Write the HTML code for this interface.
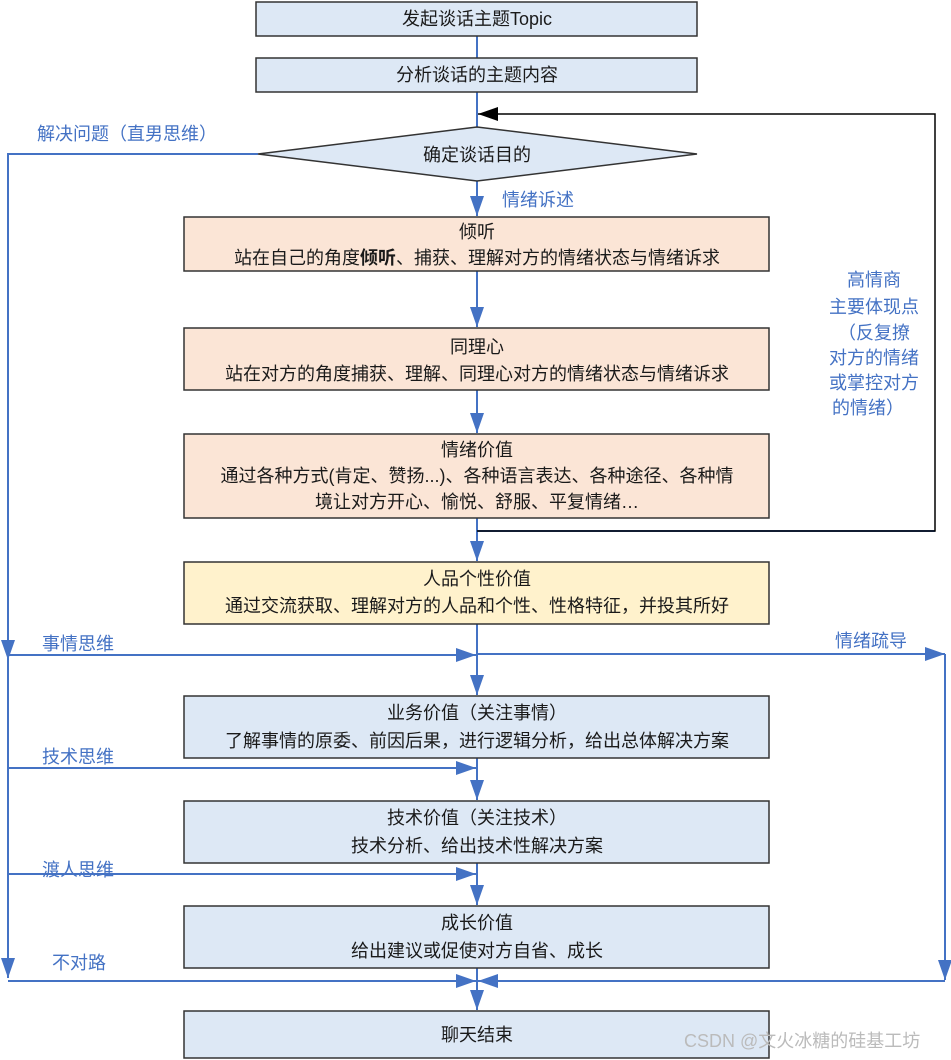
<!DOCTYPE html>
<html><head><meta charset="utf-8"><style>
html,body{margin:0;padding:0;background:#fff;}
svg{display:block;}
text{font-family:"Liberation Sans","Noto Sans CJK SC",sans-serif;}
.t{font-size:18px;fill:#1a1a1a;text-anchor:middle;}
.b{font-size:18px;fill:#4472c4;}
</style></head><body>
<svg width="951" height="1060" viewBox="0 0 951 1060" xmlns="http://www.w3.org/2000/svg">
<defs>
<marker id="a" markerWidth="10" markerHeight="10" refX="10" refY="5" orient="auto" markerUnits="userSpaceOnUse"><path d="M0,0L10,5L0,10z" fill="#4472c4"/></marker>
<marker id="al" markerWidth="20" markerHeight="14" refX="20" refY="7" orient="auto" markerUnits="userSpaceOnUse"><path d="M0,0L20,7L0,14z" fill="#4472c4"/></marker>
<marker id="k" markerWidth="20" markerHeight="14" refX="20" refY="7" orient="auto" markerUnits="userSpaceOnUse"><path d="M0,0L20,7L0,14z" fill="#000"/></marker>
</defs>
<g stroke="#4472c4" stroke-width="2" fill="none">
<line x1="477" y1="36" x2="477" y2="58"/>
<line x1="477" y1="92" x2="477" y2="127"/>
<line x1="477" y1="181" x2="477" y2="216" marker-end="url(#al)"/>
<line x1="477" y1="271" x2="477" y2="327" marker-end="url(#al)"/>
<line x1="477" y1="390" x2="477" y2="433" marker-end="url(#al)"/>
<line x1="477" y1="518" x2="477" y2="561" marker-end="url(#al)"/>
<line x1="477" y1="531" x2="935" y2="531"/>
<line x1="477" y1="624" x2="477" y2="695" marker-end="url(#al)"/>
<line x1="477" y1="758" x2="477" y2="800" marker-end="url(#al)"/>
<line x1="477" y1="863" x2="477" y2="905" marker-end="url(#al)"/>
<line x1="477" y1="968" x2="477" y2="1010" marker-end="url(#al)"/>
<polyline points="258,154 8,154 8,660" marker-end="url(#al)"/>
<line x1="8" y1="655" x2="8" y2="978" marker-end="url(#al)"/>
<line x1="8" y1="655" x2="476" y2="655" marker-end="url(#al)"/>
<line x1="8" y1="768" x2="476" y2="768" marker-end="url(#al)"/>
<line x1="8" y1="874" x2="476" y2="874" marker-end="url(#al)"/>
<line x1="8" y1="981" x2="476" y2="981" marker-end="url(#al)"/>
<line x1="477" y1="654" x2="945" y2="654" marker-end="url(#al)"/>
<line x1="945" y1="654" x2="945" y2="980" marker-end="url(#al)"/>
<line x1="945" y1="981" x2="478" y2="981" marker-end="url(#al)"/>
</g>
<polyline points="477,531 935,531 935,114 478,114" fill="none" stroke="#000" stroke-width="1.5" marker-end="url(#k)"/>
<g stroke="#333" stroke-width="1.5">
<rect x="256" y="2" width="441" height="34" fill="#dde8f5"/>
<rect x="256" y="58" width="441" height="34" fill="#dde8f5"/>
<polygon points="258,154 477,127 697,154 477,181" fill="#dde8f5"/>
<rect x="184" y="217" width="585" height="54" fill="#fbe5d6"/>
<rect x="184" y="328" width="585" height="62" fill="#fbe5d6"/>
<rect x="184" y="434" width="585" height="84" fill="#fbe5d6"/>
<rect x="184" y="562" width="585" height="62" fill="#fff2cc"/>
<rect x="184" y="696" width="585" height="62" fill="#dde8f5"/>
<rect x="184" y="801" width="585" height="62" fill="#dde8f5"/>
<rect x="184" y="906" width="585" height="62" fill="#dde8f5"/>
<rect x="184" y="1011" width="585" height="47" fill="#dde8f5"/>
</g>
<text class="t" x="477" y="25">发起谈话主题Topic</text>
<text class="t" x="477" y="81">分析谈话的主题内容</text>
<text class="t" x="477" y="161">确定谈话目的</text>
<text class="t" x="477" y="238">倾听</text>
<text class="t" x="477" y="264">站在自己的角度<tspan font-weight="bold">倾听</tspan>、捕获、理解对方的情绪状态与情绪诉求</text>
<text class="t" x="477" y="353">同理心</text>
<text class="t" x="477" y="380">站在对方的角度捕获、理解、同理心对方的情绪状态与情绪诉求</text>
<text class="t" x="477" y="456">情绪价值</text>
<text class="t" x="477" y="482">通过各种方式(肯定、赞扬...)、各种语言表达、各种途径、各种情</text>
<text class="t" x="477" y="508">境让对方开心、愉悦、舒服、平复情绪…</text>
<text class="t" x="477" y="585">人品个性价值</text>
<text class="t" x="477" y="612">通过交流获取、理解对方的人品和个性、性格特征，并投其所好</text>
<text class="t" x="477" y="719">业务价值（关注事情）</text>
<text class="t" x="477" y="747">了解事情的原委、前因后果，进行逻辑分析，给出总体解决方案</text>
<text class="t" x="477" y="824">技术价值（关注技术）</text>
<text class="t" x="477" y="852">技术分析、给出技术性解决方案</text>
<text class="t" x="477" y="929">成长价值</text>
<text class="t" x="477" y="957">给出建议或促使对方自省、成长</text>
<text class="t" x="477" y="1041">聊天结束</text>
<text class="b" x="37" y="140">解决问题（直男思维）</text>
<text class="b" x="502" y="206">情绪诉述</text>
<text class="b" x="42" y="650">事情思维</text>
<text class="b" x="42" y="763">技术思维</text>
<text class="b" x="42" y="876">渡人思维</text>
<text class="b" x="52" y="969">不对路</text>
<text class="b" x="835" y="647">情绪疏导</text>
<g class="b" text-anchor="middle">
<text x="874" y="286">高情商</text>
<text x="874" y="313">主要体现点</text>
<text x="874" y="339">（反复撩</text>
<text x="874" y="364">对方的情绪</text>
<text x="874" y="389">或掌控对方</text>
<text x="868" y="414">的情绪）</text>
</g>
<text x="684" y="1047" style="font-size:18px;fill:#bbbbbb;">CSDN @文火冰糖的硅基工坊</text>
</svg>
</body></html>
